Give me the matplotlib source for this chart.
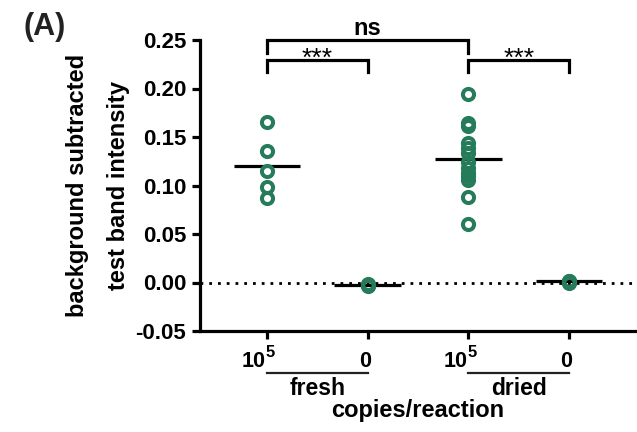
import matplotlib
matplotlib.use("Agg")
import matplotlib.pyplot as plt
import numpy as np

plt.rcParams['font.family'] = ['Liberation Sans', 'DejaVu Sans']
plt.rcParams['font.weight'] = 'bold'
plt.rcParams['axes.unicode_minus'] = False

# data
groups = ['fresh', 'dried']
tick_labels = [('10', '5'), ('0', ''), ('10', '5'), ('0', '')]
fresh_1e5 = [0.165, 0.136, 0.115, 0.098, 0.087]
fresh_0 = [-0.003, -0.002, -0.003, -0.004, -0.003]
dried_1e5 = [0.194, 0.164, 0.161, 0.144, 0.139, 0.133, 0.124, 0.118,
             0.113, 0.110, 0.106, 0.088, 0.060]
dried_0 = [0.001, 0.002, 0.001, 0.000, 0.002]
series = [fresh_1e5, fresh_0, dried_1e5, dried_0]
comparisons = [(1, 2, '***'), (3, 4, '***'), (1, 3, 'ns')]

green = '#267b5a'

fig = plt.figure(figsize=(6.37, 4.32), dpi=100)
ax = fig.add_axes([200/637, 1-331/432, 437/637, 291/432])

ax.axhline(0, color='black', lw=2, ls=(0, (1, 2.15)), zorder=1)

for i, vals in enumerate(series):
    x = i + 1
    ax.plot([x]*len(vals), vals, 'o', ms=8, mew=2.9, mfc='none',
            mec=green, zorder=3, clip_on=False)
    m = np.mean(vals)
    ax.plot([x-0.33, x+0.33], [m, m], color='black', lw=2.3, zorder=2,
            solid_capstyle='butt')

ax.set_xlim(0.3345, 4.675)
ax.set_ylim(-0.05, 0.25)
ax.set_yticks(np.arange(-0.05, 0.26, 0.05))
ax.set_yticklabels([f'{v:.2f}' for v in np.arange(-0.05, 0.26, 0.05)])
ax.set_xticks([1, 2, 3, 4])
ax.set_xticklabels([])

for s in ['top', 'right']:
    ax.spines[s].set_visible(False)
for s in ['left', 'bottom']:
    ax.spines[s].set_linewidth(2.3)
ax.tick_params(axis='y', length=6, width=2.3, labelsize=16, pad=4)
ax.tick_params(axis='x', length=6, width=2.3)

tr = ax.get_xaxis_transform()
for i, (base, sup) in enumerate(tick_labels):
    x = i + 1
    if sup:
        ax.text(x - 0.01, -0.1237, base, transform=tr, ha='right',
                va='baseline', fontsize=15.5, fontweight='bold')
        ax.text(x - 0.01, -0.0893, sup, transform=tr, ha='left',
                va='baseline', fontsize=12, fontweight='bold')
    else:
        ax.text(x - 0.03, -0.1237, base, transform=tr, ha='center',
                va='baseline', fontsize=15.5, fontweight='bold')

for g, name in enumerate(groups):
    x0 = 2*g + 1
    ax.plot([x0, x0 + 1], [-0.1457, -0.1457], transform=tr, color='#222222',
            lw=1.6, clip_on=False)
    ax.text(x0 + 0.5, -0.22, name, transform=tr, ha='center', va='baseline',
            fontsize=16.5, fontweight='bold')
ax.text(2.5, -0.2955, 'copies/reaction', transform=tr, ha='center',
        va='baseline', fontsize=17, fontweight='bold')

# significance brackets
for a, b, lab in comparisons:
    if lab == 'ns':
        top, leg = 0.2505, 0.2365
        ax.text((a+b)/2, 0.2555, lab, ha='center', va='baseline',
                fontsize=17, fontweight='bold')
    else:
        top, leg = 0.2298, 0.2165
        ax.text((a+b)/2, 0.2235, lab, ha='center', va='baseline',
                fontsize=19, fontweight='normal')
    ax.plot([a, a, b, b], [leg, top, top, leg], color='black', lw=2.3,
            clip_on=False, solid_joinstyle='miter')

fig.text(98/637, 1-185/432, 'background subtracted\ntest band intensity',
         rotation=90, ha='center', va='center', fontsize=17,
         fontweight='bold', linespacing=1.95, multialignment='center')
fig.text(24/637, 1-27/432, '(A)', ha='left', va='center', fontsize=22,
         fontweight='bold', color='#222222')

fig.savefig('out.png', dpi=100)
